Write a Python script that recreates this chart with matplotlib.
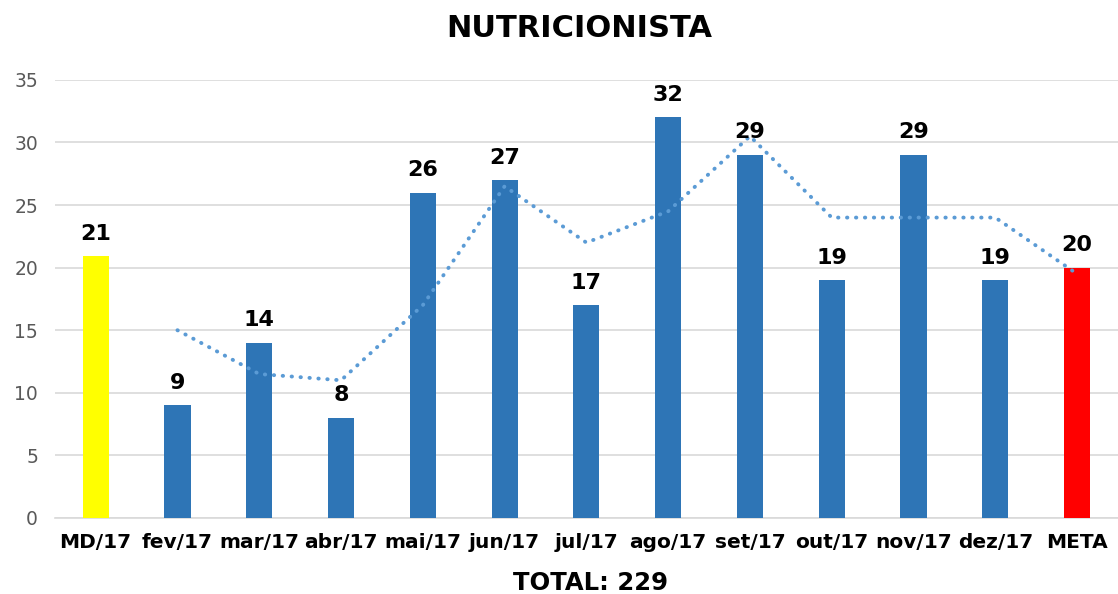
import numpy as np
import matplotlib.pyplot as plt

# Data
categories = ['MD/17', 'fev/17', 'mar/17', 'abr/17', 'mai/17', 'jun/17', 'jul/17',
              'ago/17', 'set/17', 'out/17', 'nov/17', 'dez/17', 'META']
values = [20.9, 9, 14, 8, 26, 27, 17, 32, 29, 19, 29, 19, 20]
labels = ['21', '9', '14', '8', '26', '27', '17', '32', '29', '19', '29', '19', '20']
# 2-period moving average trendline (fev/17 .. META)
trend = [15, 11.5, 11, 17, 26.5, 22, 24.5, 30.5, 24, 24, 24, 19.5]

colors = ['#ffff00'] + ['#2e75b6'] * 11 + ['#ff0000']

fig = plt.figure(figsize=(11.18, 5.94), dpi=100)
ax = fig.add_axes([0.049, 0.128, 0.951, 0.7375])

x = np.arange(len(categories))
ax.bar(x, values, width=0.32, color=colors, zorder=3)

ax.plot(x[1:], trend, color='#5b9bd5', linestyle=(0, (0.1, 2.2)), linewidth=2.8,
        dash_capstyle='round', zorder=4)

for xi, v, lab in zip(x, values, labels):
    ax.text(xi, v + 1.0, lab, ha='center', va='bottom', fontsize=16,
            fontweight='bold', color='black', zorder=5)

ax.set_xlim(-0.5, len(categories) - 0.5)
ax.set_ylim(0, 35)
ax.set_yticks(range(0, 36, 5))
ax.yaxis.grid(True, color='#d9d9d9', linewidth=1.2, zorder=0)
ax.set_axisbelow(True)

for s in ['top', 'right', 'left']:
    ax.spines[s].set_visible(False)
ax.spines['bottom'].set_color('#d9d9d9')
ax.spines['bottom'].set_linewidth(1.2)

ax.set_xticks(x)
ax.set_xticklabels(categories, fontsize=14.5, fontweight='bold', color='black')
ax.tick_params(axis='x', length=0, pad=11)
ax.tick_params(axis='y', length=0, labelsize=13.5, labelcolor='#595959', pad=12)

fig.text(0.518, 0.952, 'NUTRICIONISTA', ha='center', va='center',
         fontsize=22, fontweight='bold')
fig.text(0.528, 0.0185, 'TOTAL: 229', ha='center', va='center',
         fontsize=17.5, fontweight='bold')

plt.savefig('out.png', dpi=100)
